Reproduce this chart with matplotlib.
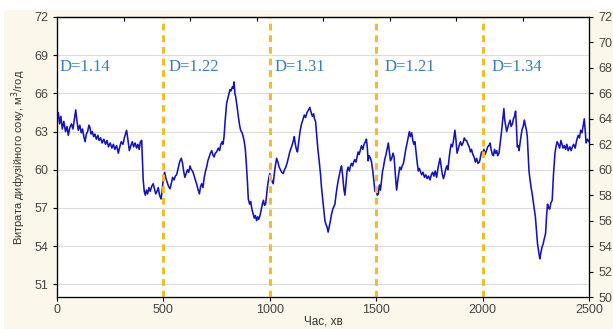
import numpy as np
import matplotlib
matplotlib.use("Agg")
import matplotlib.pyplot as plt
from matplotlib.patches import Rectangle

# diffusion juice flow, sampled every few minutes
t_min = [
    0, 6, 12, 18, 25, 32, 40, 47, 53, 60, 68, 75, 82, 88, 94, 100, 107, 114, 120, 126,
    132, 138, 144, 150, 155, 160, 166, 172, 178, 185, 192, 198, 205, 212, 220, 228, 235, 242, 250, 258,
    265, 272, 280, 288, 295, 302, 310, 318, 327, 333, 340, 347, 354, 360, 367, 374, 380, 386, 392, 398,
    401, 405, 410, 415, 420, 426, 432, 438, 445, 452, 458, 464, 470, 476, 482, 489, 494, 500,
    506, 512, 518, 524, 531, 537, 543, 550, 556, 562, 568, 573, 578, 584, 590, 595, 601, 607, 613, 619,
    625, 631, 637, 643, 650, 656, 662, 669, 675, 680, 686, 692, 698, 703, 709, 715, 721, 727, 732, 738,
    744, 750, 758, 764, 770, 776, 780, 785, 790, 797, 803, 808, 813, 818, 824, 828, 832, 836, 840, 846,
    852, 858, 863, 870, 875, 880, 885, 890, 895, 899, 905, 910, 916, 922, 927, 932, 938, 943, 948, 954,
    960, 965, 970, 975, 980, 985, 990, 995, 1000,
    1005, 1010, 1016, 1022, 1027, 1032, 1038, 1044, 1050, 1056, 1063, 1069, 1075, 1081, 1088, 1094, 1100, 1106, 1111, 1115,
    1120, 1125, 1130, 1136, 1142, 1149, 1155, 1162, 1168, 1175, 1182, 1188, 1194, 1200, 1206, 1210, 1215, 1220, 1226, 1232,
    1238, 1243, 1249, 1254, 1259, 1264, 1269, 1274, 1280, 1285, 1290, 1296, 1301, 1306, 1311, 1316, 1322, 1327, 1332, 1337,
    1342, 1348, 1353, 1358, 1363, 1368, 1374, 1379, 1384, 1389, 1394, 1399, 1405, 1410, 1415, 1420, 1426, 1431, 1437, 1443,
    1449, 1454, 1458, 1462, 1467, 1473, 1478, 1484, 1490,
    1494, 1500, 1505, 1510, 1515, 1520, 1526, 1530, 1534, 1540, 1546, 1552, 1557, 1562, 1567, 1573, 1579, 1584, 1590, 1596,
    1601, 1606, 1611, 1617, 1622, 1628, 1633, 1639, 1645, 1650, 1656, 1661, 1667, 1672, 1677, 1682, 1688, 1693, 1698, 1703,
    1709, 1714, 1720, 1727, 1733, 1740, 1746, 1753, 1759, 1765, 1771, 1777, 1784, 1790, 1795, 1800, 1805, 1810, 1816, 1821,
    1826, 1832, 1837, 1842, 1847, 1852, 1858, 1864, 1870, 1875, 1880, 1885, 1890, 1896, 1902, 1908, 1914, 1920, 1925, 1931,
    1937, 1943, 1948, 1954, 1960, 1966, 1972, 1978, 1985, 1990, 1995,
    2000, 2006, 2012, 2018, 2024, 2030, 2035, 2040, 2046, 2051, 2056, 2061, 2066, 2071, 2077, 2082, 2089, 2094, 2100, 2104,
    2108, 2113, 2118, 2123, 2129, 2134, 2140, 2145, 2150, 2155, 2159, 2163, 2167, 2171, 2176, 2181, 2186, 2191, 2196, 2201,
    2206, 2210, 2214, 2218, 2223, 2228, 2233, 2238, 2243, 2248, 2253, 2258, 2263, 2266, 2269, 2274, 2279, 2285, 2290, 2296,
    2300, 2305, 2310, 2315, 2321, 2327, 2333, 2340, 2345, 2350, 2356, 2362, 2368, 2373, 2378, 2384, 2390, 2396, 2402, 2410,
    2416, 2422, 2428, 2435, 2442, 2449, 2455, 2461, 2467, 2472, 2478, 2483, 2486, 2493, 2500,
]
flow = [
    63.9, 64.5, 63.6, 64.2, 63.2, 63.8, 63.0, 63.4, 62.7, 63.3, 63.6, 63.2, 64.0, 64.7, 63.8, 63.1, 63.5, 62.9, 63.2, 62.6,
    62.2, 62.8, 63.0, 63.5, 63.3, 62.8, 63.0, 62.6, 62.8, 62.4, 62.7, 62.3, 62.5, 62.1, 62.4, 62.0, 62.3, 61.8, 62.1, 61.7,
    62.0, 61.6, 61.9, 61.3, 61.8, 62.2, 62.0, 62.6, 63.1, 62.4, 61.5, 61.9, 62.2, 61.8, 62.1, 61.7, 62.0, 61.6, 62.2, 62.3,
    61.0, 59.2, 58.3, 58.0, 58.4, 58.1, 58.6, 58.3, 58.7, 58.9, 58.5, 58.1, 58.3, 58.6, 58.0, 57.7, 58.3, 59.4,
    59.8, 59.3, 59.0, 58.7, 58.5, 58.9, 59.4, 59.2, 59.5, 59.6, 60.0, 60.4, 60.7, 60.9, 60.5, 59.9, 59.4, 59.7, 60.0, 59.8,
    60.3, 60.0, 59.9, 59.6, 59.2, 58.9, 58.5, 58.1, 58.7, 58.9, 58.6, 59.4, 59.9, 60.2, 60.7, 61.0, 61.3, 61.5, 61.2, 61.0,
    61.3, 61.4, 61.7, 61.5, 62.0, 62.2, 62.0, 62.6, 63.8, 65.2, 65.6, 65.9, 66.3, 66.2, 66.5, 66.4, 66.9, 66.0, 65.7, 65.0,
    64.2, 63.5, 63.1, 62.9, 62.6, 62.2, 61.6, 60.4, 59.0, 57.7, 57.3, 57.5, 56.9, 56.5, 56.2, 56.4, 56.0, 56.3, 56.1, 56.4,
    56.9, 57.3, 57.6, 57.2, 57.3, 58.0, 58.8, 59.3, 59.7,
    59.4, 59.1, 58.9, 59.8, 60.4, 60.9, 60.6, 60.2, 60.0, 59.8, 59.7, 60.0, 60.2, 60.5, 61.0, 61.4, 61.7, 62.0, 62.3, 62.6,
    62.0, 61.6, 61.4, 62.2, 63.0, 63.6, 63.9, 64.3, 64.1, 64.5, 64.7, 64.9, 64.5, 64.2, 64.4, 64.0, 63.8, 62.8, 61.6, 60.7,
    59.7, 58.6, 57.6, 56.8, 56.0, 55.7, 55.5, 55.1, 55.6, 56.0, 56.5, 56.9, 57.1, 57.3, 58.0, 58.6, 59.2, 59.6, 60.0, 60.3,
    59.6, 58.5, 58.0, 59.0, 59.9, 60.2, 59.9, 60.3, 60.5, 60.3, 60.6, 60.8, 60.6, 61.0, 61.4, 61.2, 61.6, 61.9, 61.6, 62.0,
    62.2, 62.4, 61.8, 60.7, 61.1, 60.9, 60.6, 59.9, 58.9,
    58.3, 58.6, 58.0, 58.1, 58.8, 58.4, 59.3, 59.9, 60.2, 60.8, 61.2, 61.7, 62.1, 61.4, 60.7, 60.9, 61.3, 61.0, 59.6, 58.4,
    59.1, 59.7, 60.2, 60.0, 60.3, 60.5, 61.0, 61.6, 62.1, 62.5, 63.0, 62.6, 62.9, 62.3, 62.0, 62.2, 61.3, 60.5, 59.9, 60.1,
    59.8, 59.6, 59.8, 59.4, 59.6, 59.3, 59.5, 59.2, 59.6, 59.8, 59.5, 59.9, 59.4, 60.1, 60.5, 60.9, 60.3, 59.7, 59.3, 59.6,
    60.0, 60.3, 60.0, 60.8, 61.5, 62.0, 61.8, 62.4, 63.1, 62.3, 61.3, 61.6, 61.9, 62.2, 61.9, 62.1, 62.5, 62.3, 62.3, 62.0,
    61.8, 61.4, 61.6, 61.2, 61.0, 60.6, 60.9, 60.5, 60.6, 61.0, 61.4,
    61.3, 61.6, 61.2, 61.5, 61.8, 61.9, 62.1, 61.6, 61.2, 61.1, 61.6, 61.3, 61.5, 61.1, 61.3, 62.0, 63.0, 63.8, 64.8, 63.9,
    63.5, 63.0, 63.3, 63.6, 63.9, 63.4, 63.6, 64.0, 64.2, 64.6, 63.4, 61.8, 61.9, 61.5, 62.1, 62.7, 63.2, 63.4, 63.9, 63.5,
    63.1, 62.6, 61.2, 59.9, 59.2, 58.6, 58.1, 57.5, 56.9, 56.3, 55.3, 54.2, 53.6, 53.3, 53.0, 53.5, 53.9, 54.2, 54.6, 55.0,
    56.2, 57.3, 57.0, 56.9, 57.4, 57.6, 59.6, 61.3, 61.8, 62.2, 62.0, 61.7, 62.3, 62.0, 61.7, 61.9, 61.6, 62.0, 61.5, 61.8,
    61.5, 61.8, 62.0, 61.7, 62.3, 62.7, 62.5, 63.1, 62.9, 63.4, 64.0, 62.9, 62.1, 62.4, 62.2,
]

# fractal dimension of each 500-minute interval
boundaries = [500, 1000, 1500, 2000]
d_starts = [14, 522, 1024, 1537, 2040]
d_labels = ["D=1.14", "D=1.22", "D=1.31", "D=1.21", "D=1.34"]

left_ticks = [51, 54, 57, 60, 63, 66, 69, 72]
right_ticks = list(range(50, 73, 2))

plt.rcParams["font.family"] = ["Liberation Sans", "DejaVu Sans"]

fig = plt.figure(figsize=(6.13, 3.29), dpi=100, facecolor="white")
fig.patches.append(Rectangle((4 / 613, 0), 1, 1 - 10 / 329, transform=fig.transFigure,
                             facecolor="#FBF7EA", edgecolor="none", zorder=-10))
ax = fig.add_axes([57 / 613, 32 / 329, 532 / 613, 280 / 329])
ax.set_facecolor("white")

ax.plot(t_min, flow, color="#1414B4", lw=1.15, zorder=3)
for b in boundaries:
    ax.axvline(b, color="#EDBE2E", lw=2.2, linestyle=(0, (2.2, 1.6)), zorder=4)
for x, s in zip(d_starts, d_labels):
    ax.text(x, 68.1, s, color="#3A7CBC", fontsize=12,
            family=["Liberation Serif", "DejaVu Serif"], va="center", ha="left")

ax.set_xlim(0, 2500)
ax.set_ylim(50, 72)
ax.set_xticks([0, 500, 1000, 1500, 2000, 2500])
ax.set_yticks(left_ticks)
ax.grid(axis="y", color="#DCDCDC", lw=0.8)
ax.tick_params(axis="both", labelsize=9, labelcolor="#444444", length=3, direction="out")
ax.tick_params(axis="x", pad=2)
for sp in ax.spines.values():
    sp.set_color("#222222")
    sp.set_linewidth(0.9)

top = ax.secondary_xaxis("top")
top.set_xticks(np.arange(312.5, 2500, 312.5))
top.set_xticklabels([])
top.tick_params(direction="in", length=3)

ax2 = ax.twinx()
ax2.set_ylim(50, 72)
ax2.set_yticks(right_ticks)
ax2.tick_params(axis="y", labelsize=9, labelcolor="#444444", length=3)

ax.set_xlabel("Час, хв", fontsize=8.5, color="#333333")
ax.xaxis.set_label_coords(0.5, -24 / 280)
ax.xaxis.label.set_verticalalignment("center")
ax.set_ylabel("Витрата дифузійного соку, м$^3$/год", fontsize=8, color="#333333", labelpad=4)

fig.savefig("out.png", dpi=100, facecolor=fig.get_facecolor())
